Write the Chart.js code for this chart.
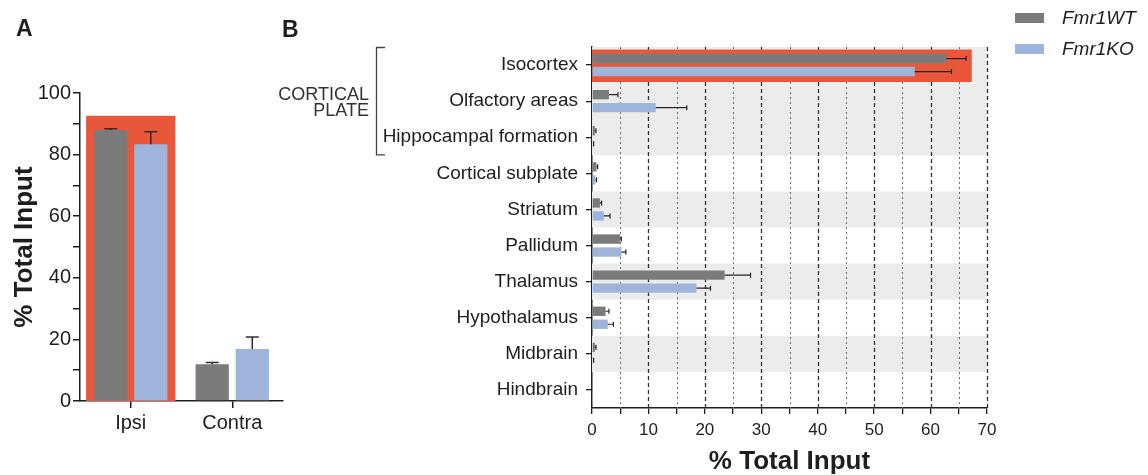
<!DOCTYPE html>
<html>
<head>
<meta charset="utf-8">
<script src="https://cdn.jsdelivr.net/npm/chart.js@4.4.1/dist/chart.umd.min.js"></script>
<style>
  html, body { margin: 0; padding: 0; background: #ffffff; }
  #wrap { position: relative; width: 1148px; height: 475px; overflow: hidden; }
  #wrap canvas { position: absolute; left: 0; top: 0; }
</style>
</head>
<body>
<div id="wrap">
  <canvas id="panelA" width="1148" height="475"></canvas>
  <canvas id="panelB" width="1148" height="475"></canvas>
</div>
<script>
// ---- data ----
const gene = 'Fmr1';
const genotypes = ['WT', 'KO'];

// Panel A: ipsilateral vs contralateral input (% of total)
const sides = ['Ipsi', 'Contra'];
const wtSide = [88.0, 11.9];
const wtSideErr = [0.4, 0.6];
const koSide = [83.4, 16.9];
const koSideErr = [4.0, 3.9];

// Panel B: input by brain region (% of total)
const regions = ['Isocortex', 'Olfactory areas', 'Hippocampal formation', 'Cortical subplate',
  'Striatum', 'Pallidum', 'Thalamus', 'Hypothalamus', 'Midbrain', 'Hindbrain'];
const wtRegion = [62.8, 3.0, 0.5, 0.8, 1.4, 5.0, 23.5, 2.4, 0.5, 0.05];
const wtRegionErr = [3.5, 1.6, 0.2, 0.2, 0.3, 0.2, 4.6, 0.6, 0.2, 0.0];
const koRegion = [57.2, 11.3, 0.2, 0.6, 2.1, 5.2, 18.5, 2.8, 0.2, 0.05];
const koRegionErr = [6.5, 5.5, 0.1, 0.2, 1.1, 0.8, 2.5, 1.0, 0.1, 0.0];

// x-axis ticks of panel B
const regionTicks = [0, 10, 20, 30, 40, 50, 60, 70];

// ---- styles ----
const FONT = '"Liberation Sans", Arial, Helvetica, sans-serif';
const WT_COLOR = '#7b7b7b';
const KO_COLOR = '#9fb4da';
const HIGHLIGHT = '#e9573a';
const BAND = '#ececec';
const INK = '#1e1e1e';

Chart.defaults.font.family = FONT;
Chart.defaults.color = INK;
Chart.defaults.animation = false;

// draws "Fmr1" followed by the genotype, in italics
function drawGeneLabel(ctx, x, y, suffix, size) {
  ctx.textBaseline = 'middle';
  ctx.textAlign = 'left';
  ctx.font = 'italic ' + size + 'px ' + FONT;
  ctx.fillText(gene, x, y);
  const w = ctx.measureText(gene).width;
  ctx.fillText(suffix, x + w, y);
}

// error bars: line from bar end to value+err, with a cap
function errorBarPlugin(errs, opts) {
  return {
    id: 'errorBars',
    afterDatasetsDraw(chart) {
      const ctx = chart.ctx;
      const horizontal = chart.options.indexAxis === 'y';
      const valueScale = horizontal ? chart.scales.x : chart.scales.y;
      ctx.save();
      chart.data.datasets.forEach((ds, di) => {
        const meta = chart.getDatasetMeta(di);
        meta.data.forEach((bar, i) => {
          const e = errs[di][i];
          if (!e) return;
          const end = valueScale.getPixelForValue(ds.data[i] + e);
          ctx.strokeStyle = opts.color;
          ctx.lineWidth = opts.width;
          ctx.beginPath();
          if (horizontal) {
            ctx.moveTo(bar.x, bar.y);
            ctx.lineTo(end, bar.y);
            ctx.moveTo(end, bar.y - opts.cap / 2);
            ctx.lineTo(end, bar.y + opts.cap / 2);
          } else {
            ctx.moveTo(bar.x, bar.y);
            ctx.lineTo(bar.x, end);
            ctx.moveTo(bar.x - opts.cap / 2, end);
            ctx.lineTo(bar.x + opts.cap / 2, end);
          }
          ctx.stroke();
        });
      });
      ctx.restore();
    }
  };
}

// ---------------- Panel A ----------------
const panelABackground = {
  id: 'panelABackground',
  beforeDatasetsDraw(chart) {
    const { ctx, scales: { x, y } } = chart;
    const cw = x.getPixelForValue(1) - x.getPixelForValue(0);
    const cx = x.getPixelForValue(0);
    const top = y.getPixelForValue(92.6);
    const bottom = y.getPixelForValue(0);
    ctx.save();
    ctx.fillStyle = HIGHLIGHT;
    ctx.fillRect(cx - cw * 0.44, top, cw * 0.88, bottom - top);
    ctx.restore();
  },
  afterDraw(chart) {
    const ctx = chart.ctx;
    ctx.save();
    ctx.fillStyle = INK;
    ctx.font = 'bold 23px ' + FONT;
    ctx.textAlign = 'left';
    ctx.textBaseline = 'middle';
    ctx.fillText('A', 16, 30);
    ctx.restore();
  }
};

new Chart(document.getElementById('panelA'), {
  type: 'bar',
  data: {
    labels: sides,
    datasets: [
      { label: gene + genotypes[0], data: wtSide, backgroundColor: WT_COLOR },
      { label: gene + genotypes[1], data: koSide, backgroundColor: KO_COLOR }
    ]
  },
  options: {
    responsive: false,
    layout: { padding: { top: 93, right: 1148 - 283, left: 0, bottom: 0 } },
    datasets: { bar: { categoryPercentage: 0.79, barPercentage: 0.83 } },
    plugins: { legend: { display: false }, tooltip: { enabled: false } },
    scales: {
      x: {
        grid: { display: true, drawOnChartArea: false, offset: false, tickLength: 7, color: INK, lineWidth: 1.5 },
        border: { color: INK, width: 1.5 },
        ticks: { font: { size: 20 }, color: INK, padding: 3 },
        afterFit(s) { s.height = 74; }
      },
      y: {
        min: 0, max: 100,
        grid: { display: true, drawOnChartArea: false, tickLength: 7, color: INK, lineWidth: 1.5 },
        border: { color: INK, width: 1.5 },
        ticks: { stepSize: 10, font: { size: 20 }, color: INK, padding: 2,
          callback: v => (v % 20 === 0 ? v : '') },
        title: { display: true, text: '% Total Input', font: { size: 26, weight: 'bold', lineHeight: 1 }, color: INK, padding: { top: 12, bottom: 0 } },
        afterFit(s) { s.width = 80; }
      }
    }
  },
  plugins: [panelABackground, errorBarPlugin([wtSideErr, koSideErr], { color: '#3a2a2a', width: 1.6, cap: 13 })]
});

// ---------------- Panel B ----------------
const bandRows = [0, 1, 2, 4, 6, 8];

const panelBBackground = {
  id: 'panelBBackground',
  beforeDatasetsDraw(chart) {
    const { ctx, chartArea: a, scales: { x, y } } = chart;
    const rowH = y.getPixelForValue(1) - y.getPixelForValue(0);
    ctx.save();
    // alternating row bands
    ctx.fillStyle = BAND;
    bandRows.forEach(r => {
      const c = y.getPixelForValue(r);
      ctx.fillRect(a.left, c - rowH / 2, a.right - a.left, rowH);
    });
    // vertical reference lines every 5 %
    for (let v = 5; v <= 70; v += 5) {
      const px = Math.round(x.getPixelForValue(v)) + 0.5;
      const major = v % 10 === 0;
      ctx.strokeStyle = major ? '#333333' : '#6e6e6e';
      ctx.lineWidth = major ? 1.3 : 1;
      ctx.setLineDash(major ? [4, 3] : [2, 3]);
      ctx.beginPath();
      ctx.moveTo(px, a.top);
      ctx.lineTo(px, a.bottom);
      ctx.stroke();
    }
    ctx.setLineDash([]);
    // highlighted isocortex row
    const c0 = y.getPixelForValue(0);
    const x0 = x.getPixelForValue(0);
    const x1 = x.getPixelForValue(67.3);
    ctx.fillStyle = HIGHLIGHT;
    ctx.fillRect(x0, c0 - rowH * 0.43, x1 - x0, rowH * 0.9);
    ctx.restore();
  },
  afterDraw(chart) {
    const { ctx, scales: { y } } = chart;
    const rowH = y.getPixelForValue(1) - y.getPixelForValue(0);
    ctx.save();
    ctx.fillStyle = INK;
    ctx.font = 'bold 23px ' + FONT;
    ctx.textAlign = 'left';
    ctx.textBaseline = 'middle';
    ctx.fillText('B', 282, 31);

    // bracket grouping the cortical plate regions
    const top = y.getPixelForValue(0) - rowH / 2;
    const bottom = y.getPixelForValue(2) + rowH / 2;
    ctx.strokeStyle = '#444444';
    ctx.lineWidth = 1.3;
    ctx.beginPath();
    ctx.moveTo(385, top + 0.5);
    ctx.lineTo(376.5, top + 0.5);
    ctx.lineTo(376.5, bottom - 0.5);
    ctx.lineTo(385, bottom - 0.5);
    ctx.stroke();
    ctx.fillStyle = '#333333';
    ctx.font = '18px ' + FONT;
    ctx.textAlign = 'right';
    ctx.fillText('CORTICAL', 369, 95);
    ctx.fillText('PLATE', 369, 111);

    // legend
    chart.data.datasets.forEach((ds, i) => {
      const cy = 18 + i * 31;
      ctx.fillStyle = ds.backgroundColor;
      ctx.fillRect(1015, cy - 5, 29, 10);
      ctx.fillStyle = INK;
      drawGeneLabel(ctx, 1062, cy + 1, genotypes[i], 19);
    });
    ctx.restore();
  }
};

new Chart(document.getElementById('panelB'), {
  type: 'bar',
  data: {
    labels: regions,
    datasets: [
      { label: gene + genotypes[0], data: wtRegion, backgroundColor: WT_COLOR },
      { label: gene + genotypes[1], data: koRegion, backgroundColor: KO_COLOR }
    ]
  },
  options: {
    responsive: false,
    indexAxis: 'y',
    layout: { padding: { top: 47, right: 1148 - 987, left: 0, bottom: 0 } },
    datasets: { bar: { categoryPercentage: 0.72, barPercentage: 0.72 } },
    plugins: { legend: { display: false }, tooltip: { enabled: false } },
    scales: {
      x: {
        min: 0, max: 70,
        afterBuildTicks(s) {
          const out = [];
          regionTicks.forEach((v, i) => {
            out.push({ value: v });
            if (i < regionTicks.length - 1) out.push({ value: v + 5 });
          });
          s.ticks = out;
        },
        grid: { display: true, drawOnChartArea: false, tickLength: 6, color: INK, lineWidth: 1.3 },
        border: { color: INK, width: 1.5 },
        ticks: { font: { size: 17 }, color: INK, padding: 6, maxRotation: 0,
          callback: v => (regionTicks.includes(v) ? v : '') },
        title: { display: true, text: '% Total Input', font: { size: 26, weight: 'bold', lineHeight: 1 }, color: INK, padding: { top: 4, bottom: 0 } },
        afterFit(s) { s.height = 67; }
      },
      y: {
        grid: { display: true, drawOnChartArea: false, offset: false, tickLength: 6, color: INK, lineWidth: 1.3 },
        border: { color: INK, width: 1.5 },
        ticks: { font: { size: 19 }, color: INK, padding: 8, autoSkip: false },
        afterFit(s) { s.width = 592; }
      }
    }
  },
  plugins: [panelBBackground, errorBarPlugin([wtRegionErr, koRegionErr], { color: '#2a2222', width: 1.2, cap: 5 })]
});
</script>
</body>
</html>
